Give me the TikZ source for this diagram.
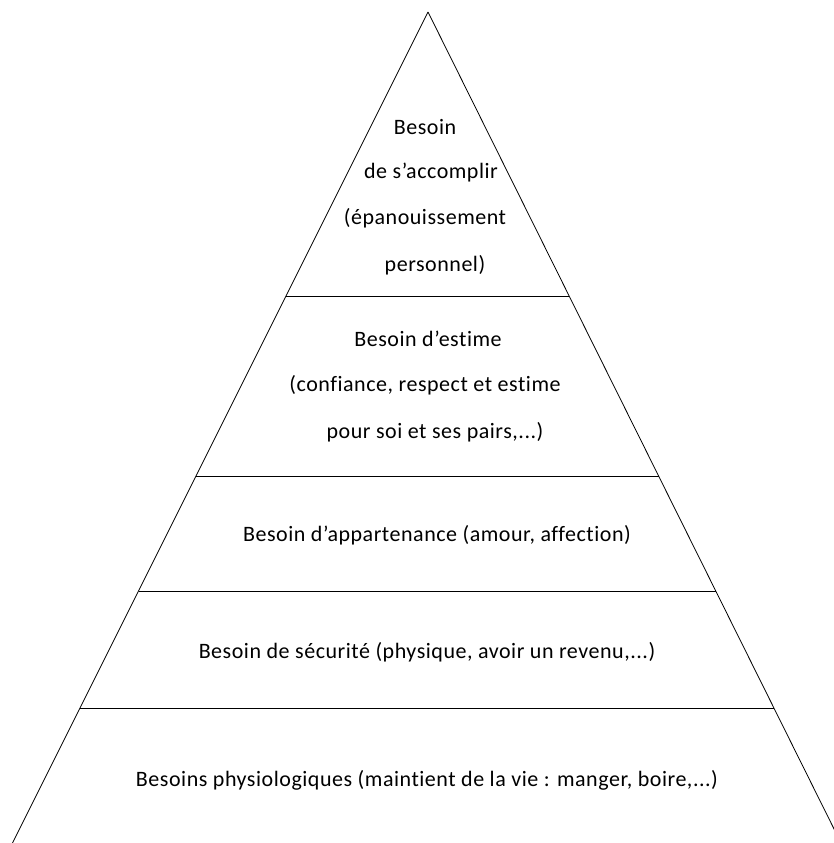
\documentclass[tikz,border=0pt]{standalone}
\usepackage{fontspec}
\setmainfont{Carlito}[LetterSpace=2.4, Ligatures=NoCommon]
\usetikzlibrary{calc}

\tikzset{need/.style={font=\fontsize{22}{26}\selectfont, inner sep=0pt, anchor=center}}

\begin{document}
\begin{tikzpicture}[x=1pt, y=1pt, line width=0.8pt]

	\useasboundingbox (0,0) rectangle (834,843);

% Define coordinates.

	%pyramid
	\coordinate (apex) at (428, 831);
	\coordinate (baseL) at (12.5, 0);
	\coordinate (baseR) at (841, 0);

	%levels
	\coordinate (L1) at (286, 547);
	\coordinate (R1) at (569, 547);
	\coordinate (L2) at (196, 367);
	\coordinate (R2) at (658.6, 367);
	\coordinate (L3) at (138.5, 252);
	\coordinate (R3) at (715.8, 252);
	\coordinate (L4) at (80, 135);
	\coordinate (R4) at (773.9, 135);

% Draw sides.

	\draw (apex) -- (baseL);
	\draw (apex) -- (baseR);

% Draw levels.

	\draw (L1) -- (R1);
	\draw (L2) -- (R2);
	\draw (L3) -- (R3);
	\draw (L4) -- (R4);

% Draw labels.

	%accomplishment
	\node[need] (acc1) at (425, 716) {Besoin};
	\node[need] (acc2) at (431, 670) {de s’accomplir};
	\node[need] (acc3) at (425, 625) {(épanouissement};
	\node[need] (acc4) at (435, 578) {personnel)};

	%esteem
	\node[need] (est1) at (428, 504) {Besoin d’estime};
	\node[need] (est2) at (425, 458) {(confiance, respect et estime};
	\node[need] (est3) at (435, 411) {pour soi et ses pairs,...)};

	\node[need] (belong) at (437, 308) {Besoin d’appartenance (amour, affection)};
	\node[need] (safety) at (427, 191) {Besoin de sécurité (physique, avoir un revenu,...)};
	\node[need] (physio) at (427, 63) {Besoins physiologiques (maintient de la vie : manger, boire,...)};

\end{tikzpicture}
\end{document}
